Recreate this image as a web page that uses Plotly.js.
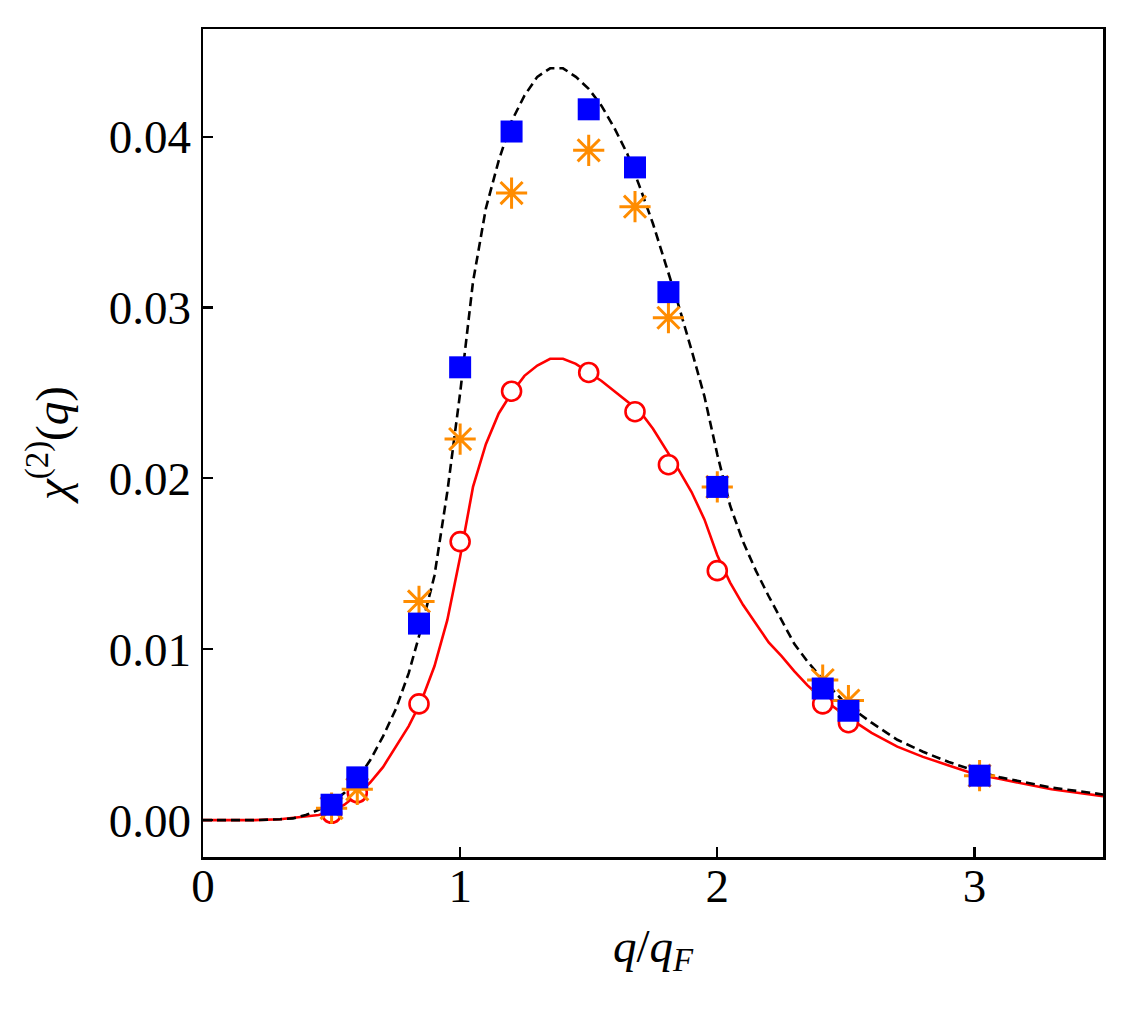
<!DOCTYPE html>
<html>
<head>
<meta charset="utf-8">
<script src="https://cdn.plot.ly/plotly-3.0.1.min.js"></script>
<style>html,body{margin:0;padding:0;background:#fff;}#chart{width:1133px;height:1014px;}</style>
</head>
<body>
<div id="chart"></div>
<script>
// Dashed black curve
var curveBlackX = [0,0.1,0.2,0.3,0.35,0.4,0.45,0.5,0.55,0.6,0.65,0.7,0.75,0.8,0.85,0.9,0.95,1.0,1.05,1.1,1.15,1.2,1.25,1.3,1.35,1.4,1.45,1.5,1.55,1.6,1.65,1.7,1.75,1.8,1.85,1.9,1.95,2.0,2.05,2.1,2.15,2.2,2.25,2.3,2.35,2.4,2.45,2.5,2.6,2.7,2.8,2.9,3.0,3.1,3.2,3.3,3.4,3.5];
var curveBlackY = [0,0,0,0.00005,0.0001,0.0003,0.0006,0.0010,0.0016,0.0024,0.0035,0.0049,0.0065,0.0086,0.0113,0.0143,0.0192,0.0250,0.0315,0.0358,0.0386,0.0409,0.0424,0.0435,0.0440,0.0440,0.0435,0.0428,0.0418,0.0405,0.0390,0.0370,0.0349,0.0325,0.0301,0.0275,0.0248,0.0214,0.0184,0.0163,0.0146,0.0131,0.0117,0.0103,0.0093,0.0084,0.0076,0.0068,0.0057,0.0047,0.0040,0.0034,0.0029,0.0025,0.0022,0.0019,0.0017,0.0015];
// Solid red curve
var curveRedX = [0,0.1,0.2,0.3,0.4,0.45,0.5,0.55,0.6,0.65,0.7,0.75,0.8,0.85,0.9,0.95,1.0,1.05,1.1,1.15,1.2,1.25,1.3,1.35,1.4,1.45,1.5,1.55,1.6,1.65,1.7,1.75,1.8,1.85,1.9,1.95,2.0,2.05,2.1,2.15,2.2,2.25,2.3,2.35,2.4,2.5,2.6,2.7,2.8,2.9,3.0,3.1,3.2,3.3,3.4,3.5];
var curveRedY = [0,0,0,0.00005,0.0002,0.0003,0.0005,0.0009,0.0015,0.0022,0.0031,0.0043,0.0055,0.0070,0.0090,0.0117,0.0154,0.0195,0.0220,0.0238,0.0250,0.0260,0.0266,0.0270,0.0270,0.0267,0.0262,0.0257,0.0251,0.0245,0.0239,0.0229,0.0217,0.0205,0.0192,0.0176,0.0155,0.0139,0.0126,0.0115,0.0104,0.0096,0.0087,0.0079,0.0072,0.0061,0.0051,0.0043,0.0037,0.0032,0.0027,0.0024,0.0021,0.0018,0.0016,0.0014];
// Marker data
var pointsX = [0.5,0.6,0.84,1.0,1.2,1.5,1.68,1.81,2.0,2.41,2.51,3.02];
var circlesY = [0.0004,0.0016,0.0068,0.0163,0.0251,0.0262,0.0239,0.0208,0.0146,0.0068,0.0057,0.0026];
var starsY = [0.0007,0.0018,0.0128,0.0223,0.0367,0.0392,0.0359,0.0294,0.0195,0.0082,0.0070,0.0026];
var squaresY = [0.0009,0.0025,0.0115,0.0265,0.0403,0.0416,0.0382,0.0309,0.0195,0.0077,0.0064,0.0026];
var xTicks = [0,1,2,3];
var yTicks = [0,0.01,0.02,0.03,0.04];
var yTickText = ['0.00','0.01','0.02','0.03','0.04'];

var data = [
  {x: curveRedX, y: curveRedY, mode: 'lines', line: {color: '#ff0000', width: 2.6}, hoverinfo: 'skip'},
  {x: curveBlackX, y: curveBlackY, mode: 'lines', line: {color: '#000000', width: 2.6, dash: '9px,5px'}, hoverinfo: 'skip'},
  {x: pointsX, y: circlesY, mode: 'markers', marker: {symbol: 'circle', size: 19, color: '#ffffff', line: {color: '#ff0000', width: 2.6}}},
  {x: pointsX, y: starsY, mode: 'markers', marker: {symbol: 'asterisk-open', size: 26, color: '#ff8c00', line: {color: '#ff8c00', width: 3}}},
  {x: pointsX, y: squaresY, mode: 'markers', marker: {symbol: 'square', size: 22, color: '#0000ff', line: {width: 0}}}
];

var axisFont = {family: 'Liberation Serif, serif', size: 47, color: '#000'};
var layout = {
  width: 1133, height: 1014,
  margin: {l: 203, r: 30, t: 29, b: 157},
  paper_bgcolor: '#fff', plot_bgcolor: '#fff',
  showlegend: false,
  font: axisFont,
  xaxis: {
    range: [0, 3.5], tickvals: xTicks, ticktext: xTicks.map(String),
    ticks: 'inside', ticklen: 10, tickwidth: 2.2, tickcolor: '#000',
    ticklabelstandoff: -14,
    showline: true, linecolor: '#000', linewidth: 2.5, mirror: true,
    showgrid: false, zeroline: false,
    tickfont: axisFont,
    title: {text: '<i>q</i>/<i>q</i><sub><i>F</i></sub>', font: axisFont, standoff: 18}
  },
  yaxis: {
    range: [-0.00216, 0.0463], tickvals: yTicks, ticktext: yTickText,
    ticks: 'inside', ticklen: 10, tickwidth: 2.2, tickcolor: '#000',
    showline: true, linecolor: '#000', linewidth: 2.5, mirror: true,
    showgrid: false, zeroline: false,
    tickfont: axisFont,
    title: {text: '<i>χ</i><sup>(2)</sup>(<i>q</i>)', font: axisFont, standoff: 26}
  }
};
Plotly.newPlot('chart', data, layout, {displayModeBar: false, staticPlot: true});
</script>
</body>
</html>
